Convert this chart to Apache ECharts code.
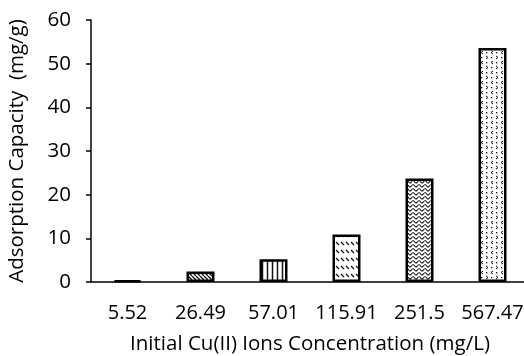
<!DOCTYPE html>
<html><head><meta charset="utf-8">
<script src="https://cdn.jsdelivr.net/npm/echarts@6/dist/echarts.min.js"></script>
<style>html,body{margin:0;padding:0;background:#fff}#c{width:524px;height:356px}</style>
</head><body><div id="c"></div>
<script>
const categories = ['5.52','26.49','57.01','115.91','251.5','567.47'];
const values = [0.4, 2.4, 5.2, 10.9, 23.7, 53.6];
const patternNames = ['solid','diag','vert','dashrows','wave','chevron'];
const yTicks = [0,10,20,30,40,50,60];

function makePattern(type){
  const c = document.createElement('canvas');
  let w=8,h=8;
  if(type==='diag'){w=h=4;}
  if(type==='vert'){w=5;h=4;}
  if(type==='dashrows'){w=5;h=8;}
  if(type==='wave'){w=6;h=4;}
  if(type==='chevron'){w=10;h=10;}
  c.width=w;c.height=h;
  const ctx=c.getContext('2d');
  ctx.fillStyle='#fff';ctx.fillRect(0,0,w,h);
  ctx.strokeStyle='#111';ctx.fillStyle='#111';ctx.lineWidth=1;
  if(type==='solid'){ctx.fillStyle='#000';ctx.fillRect(0,0,w,h);}
  if(type==='diag'){
    ctx.lineWidth=1.3;
    for(let k=-1;k<=1;k++){ctx.beginPath();ctx.moveTo(k*w,0);ctx.lineTo(k*w+w,h);ctx.stroke();}
  }
  if(type==='vert'){ctx.lineWidth=1.5;ctx.beginPath();ctx.moveTo(2.5,0);ctx.lineTo(2.5,h);ctx.stroke();}
  if(type==='dashrows'){ctx.lineWidth=1.2;ctx.beginPath();ctx.moveTo(1,2);ctx.lineTo(4,5);ctx.stroke();}
  if(type==='wave'){
    ctx.lineWidth=1.1;ctx.beginPath();
    ctx.moveTo(0,1);ctx.quadraticCurveTo(1.5,4,3,2.5);ctx.quadraticCurveTo(4.5,0,6,1);ctx.stroke();
  }
  if(type==='chevron'){
    ctx.lineWidth=1;
    ctx.beginPath();ctx.moveTo(3,1);ctx.lineTo(1,2.5);ctx.lineTo(3,4);ctx.stroke();
    ctx.beginPath();ctx.moveTo(6,6);ctx.lineTo(8,7.5);ctx.lineTo(6,9);ctx.stroke();
    ctx.fillRect(6,2,1.3,1.3);ctx.fillRect(1,7,1.3,1.3);
  }
  return {image:c, repeat:'repeat'};
}

const data = values.map((v,i)=>({value:v, itemStyle:{color:makePattern(patternNames[i])}}));

const chart = echarts.init(document.getElementById('c'),null,{renderer:'canvas'});
const font = '"Open Sans", sans-serif';
chart.setOption({
  animation:false,
  grid:{left:91,top:20,bottom:74,right:-5,containLabel:false,outerBoundsMode:'none'},
  xAxis:{type:'category',data:categories,
    axisLine:{lineStyle:{color:'#000',width:1.5}},
    axisTick:{show:false},
    axisLabel:{color:'#000',fontFamily:font,fontSize:20,margin:21,interval:0},
    name:'Initial Cu(II) Ions Concentration (mg/L)',nameLocation:'middle',nameGap:52,
    nameTextStyle:{color:'#000',fontFamily:font,fontSize:20.5}
  },
  yAxis:{type:'value',min:0,max:60,interval:10,
    axisLine:{show:true,lineStyle:{color:'#000',width:1.5}},
    axisTick:{show:true,length:5,lineStyle:{color:'#000',width:1.5}},
    splitLine:{show:false},
    axisLabel:{color:'#000',fontFamily:font,fontSize:20.5,margin:20,
      formatter:v=>yTicks.includes(v)?String(v):''},
    name:'Adsorption Capacity  (mg/g)',nameLocation:'middle',nameGap:63,
    nameTextStyle:{color:'#000',fontFamily:font,fontSize:20.5}
  },
  series:[{type:'bar',data:data,barWidth:28,
    itemStyle:{borderColor:'#000',borderWidth:2.5}}]
});
</script></body></html>
